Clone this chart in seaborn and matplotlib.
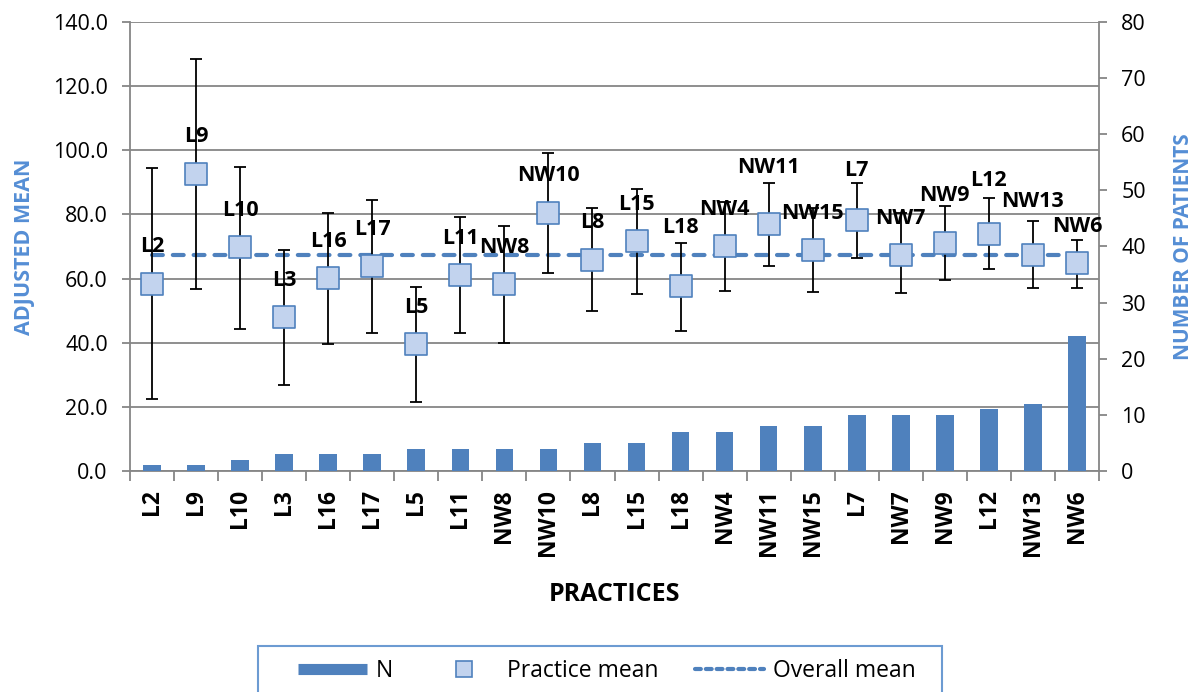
import numpy as np
import matplotlib
matplotlib.use("Agg")
import matplotlib.pyplot as plt
import seaborn as sns
from matplotlib.lines import Line2D
from matplotlib.patches import Rectangle
from matplotlib.ticker import FormatStrFormatter

# practices sorted by number of patients
practices = ["L2", "L9", "L10", "L3", "L16", "L17", "L5", "L11", "NW8", "NW10", "L8",
             "L15", "L18", "NW4", "NW11", "NW15", "L7", "NW7", "NW9", "L12", "NW13", "NW6"]
n_patients = [1, 1, 2, 3, 3, 3, 4, 4, 4, 4, 5, 5, 7, 7, 8, 8, 10, 10, 10, 11, 12, 24]
practice_mean = [58.4, 92.7, 69.7, 47.9, 60.1, 63.8, 39.5, 61.1, 58.2, 80.6, 65.9,
                 71.7, 57.6, 70.1, 77.0, 68.9, 78.4, 67.3, 71.2, 74.0, 67.5, 64.7]
ci_upper = [94.4, 128.4, 94.9, 68.9, 80.6, 84.4, 57.4, 79.2, 76.4, 99.1, 81.9,
            88.0, 71.2, 83.9, 89.9, 82.1, 89.9, 80.3, 82.5, 85.0, 77.9, 72.0]
ci_lower = [22.4, 56.9, 44.2, 26.7, 39.5, 42.9, 21.5, 42.9, 40.0, 61.6, 49.8,
            55.1, 43.8, 56.1, 63.9, 55.7, 66.5, 55.6, 59.6, 63.1, 57.1, 57.0]
overall_mean = 67.3

# labels that were moved up by hand in the original (pixels above the marker)
label_lift = {"L18": 59, "NW11": 57, "L7": 49, "NW9": 47, "L12": 53, "NW13": 53}

bar_col = "#4F81BD"
fill_col = "#C2D3EE"
axis_blue = "#558ED5"
grey = "#868686"

sns.set_style("white")
plt.rcParams["font.family"] = ["Open Sans", "DejaVu Sans"]
plt.rcParams["text.color"] = "black"

fig = plt.figure(figsize=(11.96, 6.92), dpi=100)
ax = fig.add_axes([130 / 1196, 1 - 471 / 692, 969 / 1196, 449 / 692])
ax2 = ax.twinx()   # bars, right axis
ax3 = ax.twinx()   # means on top, same scale as left axis

x = np.arange(len(practices))

sns.barplot(x=practices, y=n_patients, ax=ax2, color=bar_col, width=0.4,
            saturation=1, linewidth=0)

mean = np.array(practice_mean)
yerr = [mean - np.array(ci_lower), np.array(ci_upper) - mean]
ax3.plot(x, [overall_mean] * len(x), color=bar_col, lw=3, dashes=(2.6, 2.4),
         dash_capstyle="round", zorder=2)
ax3.errorbar(x, mean, yerr=yerr, fmt="none", ecolor="black", elinewidth=1.3,
             capsize=4.5, capthick=1.3, zorder=3)
sns.scatterplot(x=x, y=mean, marker="s", s=240, color=fill_col, edgecolor=bar_col,
                linewidth=1.2, ax=ax3, zorder=4)
for i, name in enumerate(practices):
    ax3.annotate(name, (i, mean[i]), xytext=(0, label_lift.get(name, 37)),
                 textcoords="offset pixels", ha="center", va="center",
                 fontsize=15.5, fontweight="bold", color="black", zorder=5)

for a in (ax, ax2, ax3):
    a.set_xlim(-0.5, len(practices) - 0.5)
ax.set_ylim(0, 140)
ax3.set_ylim(0, 140)
ax2.set_ylim(0, 80)
ax3.set_axis_off()

# left axis
ax.set_yticks(np.arange(0, 141, 20))
ax.yaxis.set_major_formatter(FormatStrFormatter("%.1f"))
ax.yaxis.grid(True, color=grey, lw=1.3)
ax.set_axisbelow(True)
ax.tick_params(axis="y", direction="out", length=6, width=1.3, color=grey,
               labelcolor="black", labelsize=15.5, pad=10, left=True)
ax.set_ylabel("ADJUSTED MEAN", color=axis_blue, fontweight="bold", fontsize=15.5,
              va="center")
ax.yaxis.set_label_coords(-0.109, 0.5)

# categories
ax.set_xticks(x)
ax.set_xticklabels(practices, rotation=90, fontweight="bold", fontsize=16.5)
ax.set_xticks(np.arange(-0.5, len(practices), 1), minor=True)
ax.tick_params(axis="x", which="major", length=0, pad=13, labelcolor="black")
ax.tick_params(axis="x", which="minor", direction="out", length=7, width=1.3,
               color=grey, bottom=True)
ax.set_xlabel("PRACTICES", fontweight="bold", fontsize=18, va="center", color="black")
ax.xaxis.set_label_coords(0.5, -0.274)

# right axis
ax2.set_yticks(np.arange(0, 81, 10))
ax2.tick_params(axis="y", direction="out", length=6, width=1.3, color=grey,
                labelcolor="black", labelsize=15.5, pad=10, right=True)
ax2.set_ylabel("NUMBER OF PATIENTS", color=axis_blue, fontweight="bold", fontsize=15,
               va="center")
ax2.yaxis.set_label_coords(1.087, 0.5)

for s in ("top", "right"):
    ax.spines[s].set_visible(False)
for s in ("top", "left", "bottom"):
    ax2.spines[s].set_visible(False)
for a, s in ((ax, "left"), (ax, "bottom"), (ax2, "right")):
    a.spines[s].set_color(grey)
    a.spines[s].set_linewidth(1.3)

# legend: entries spread inside a box that runs off the bottom edge
handles = [
    Line2D([], [], color=bar_col, lw=8, solid_capstyle="butt"),
    Line2D([], [], marker="s", ls="none", markersize=12, markerfacecolor=fill_col,
           markeredgecolor=bar_col, markeredgewidth=1.2),
    Line2D([], [], color=bar_col, lw=3, dashes=(1.4, 1.2), dash_capstyle="round"),
]
leg = fig.legend(handles, ["N", "Practice mean", "Overall mean"], ncol=3,
                 loc="upper left", bbox_to_anchor=(298 / 1196, 1 - 666 / 692, 618 / 1196, 0.01),
                 mode="expand", fontsize=16.5, handlelength=3.0, handletextpad=0.4,
                 borderpad=0, frameon=False, borderaxespad=0)
fig.add_artist(Rectangle((258 / 1196, -0.05), 684 / 1196, 1.05 - 646 / 692,
                         transform=fig.transFigure, fill=False,
                         edgecolor="#6C9BD2", lw=1.5))

fig.savefig("out.png", dpi=100)
